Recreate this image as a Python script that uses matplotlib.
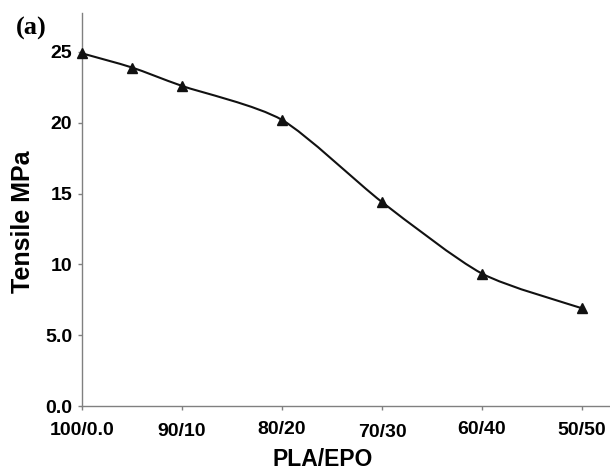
import matplotlib
matplotlib.use("Agg")
import matplotlib.pyplot as plt
import numpy as np
from matplotlib.path import Path
from matplotlib.patches import PathPatch
from matplotlib.transforms import ScaledTranslation

# EPO content of the PLA/EPO blend (wt%) and tensile strength (MPa)
epo_content = [0, 5, 10, 20, 30, 40, 50]
tensile = [24.9, 23.9, 22.6, 20.2, 14.4, 9.35, 6.9]

x_ticks = [0, 10, 20, 30, 40, 50]
x_tick_labels = ["100/0.0", "90/10", "80/20", "70/30", "60/40", "50/50"]
y_ticks = [0, 5, 10, 15, 20, 25]
y_tick_labels = ["0.0", "5.0", "10", "15", "20", "25"]


def smooth_path(x, y, k=8):
    "Smoothed line like a spreadsheet chart: cubic bezier through each point"
    x = np.asarray(x, float)
    y = np.asarray(y, float)
    n = len(x)
    verts = [(x[0], y[0])]
    codes = [Path.MOVETO]
    for i in range(n - 1):
        i0 = max(i - 1, 0)
        i3 = min(i + 2, n - 1)
        c1 = (x[i] + (x[i + 1] - x[i0]) / k, y[i] + (y[i + 1] - y[i0]) / k)
        c2 = (x[i + 1] - (x[i3] - x[i]) / k, y[i + 1] - (y[i3] - y[i]) / k)
        verts += [c1, c2, (x[i + 1], y[i + 1])]
        codes += [Path.CURVE4] * 3
    return Path(verts, codes)


sans = "Liberation Sans"
fig = plt.figure(figsize=(6.1, 4.72), dpi=100)
ax = fig.add_axes([0.1344, 0.1398, 0.8656, 0.8327])

ax.add_patch(PathPatch(smooth_path(epo_content, tensile), facecolor="none",
                       edgecolor="#111111", lw=1.5, clip_on=False))
ax.plot(epo_content, tensile, ls="none", marker="^", ms=7, color="#111111",
        clip_on=False, zorder=3)

ax.set_xlim(0, 52.8)
ax.set_ylim(0, 27.75)

for side in ["top", "right"]:
    ax.spines[side].set_visible(False)
for side in ["left", "bottom"]:
    ax.spines[side].set_color("#808080")
    ax.spines[side].set_linewidth(1.0)

ax.set_xticks(x_ticks)
ax.set_xticklabels(x_tick_labels, fontfamily=sans, fontweight="bold", fontsize=14)
ax.set_yticks(y_ticks)
ax.set_yticklabels(y_tick_labels, fontfamily=sans, fontweight="bold", fontsize=14)
ax.tick_params(axis="both", direction="out", length=3, width=1, color="#808080")
ax.tick_params(axis="x", pad=8)
ax.tick_params(axis="y", pad=4)

# the category labels in the original sit slightly staggered
shifts = [-0.5, -1.5, 0.5, -2, 0, -0.5]
for lab, dy in zip(ax.get_xticklabels(), shifts):
    lab.set_transform(lab.get_transform() + ScaledTranslation(0, dy / 72, fig.dpi_scale_trans))

ax.set_xlabel("PLA/EPO", fontfamily=sans, fontweight="bold", fontsize=16.5, va="center")
ax.xaxis.set_label_coords(0.456, -0.137)
ax.set_ylabel("Tensile MPa", fontfamily=sans, fontweight="bold", fontsize=18, va="center")
ax.yaxis.set_label_coords(-0.112, 0.468)

fig.text(31 / 610, 1 - 28 / 472, "(a)", fontfamily="Liberation Serif", fontweight="bold",
         fontsize=19, ha="center", va="center")

fig.savefig("out.png", dpi=100)
